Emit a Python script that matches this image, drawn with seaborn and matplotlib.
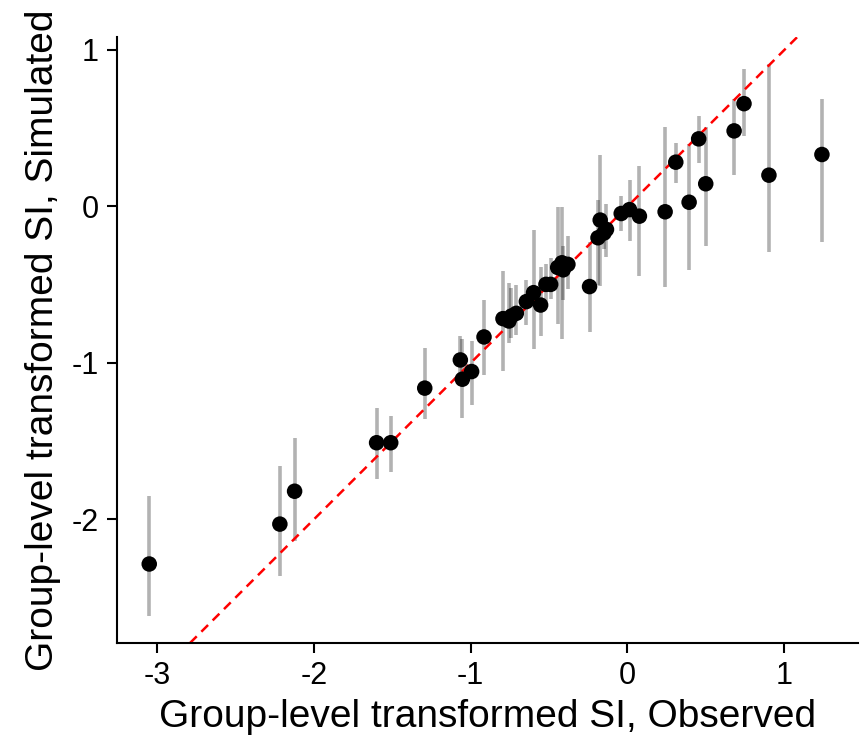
import matplotlib
matplotlib.use("Agg")
import matplotlib.pyplot as plt
import seaborn as sns
import pandas as pd

# Observed vs simulated group-level transformed SI
observed = [-3.05, -2.217, -2.123, -1.60, -1.51, -1.293, -1.066, -1.053, -0.994, -0.915,
            -0.794, -0.756, -0.74, -0.709, -0.645, -0.599, -0.554, -0.52, -0.49, -0.445,
            -0.418, -0.41, -0.38, -0.242, -0.188, -0.174, -0.134, -0.15, -0.04, 0.013,
            0.076, 0.24, 0.308, 0.393, 0.454, 0.499, 0.68, 0.743, 0.902, 1.24]
simulated = [-2.285, -2.03, -1.82, -1.51, -1.51, -1.161, -0.981, -1.104, -1.055, -0.834,
             -0.717, -0.732, -0.70, -0.683, -0.608, -0.551, -0.63, -0.498, -0.498, -0.39,
             -0.36, -0.405, -0.37, -0.512, -0.20, -0.087, -0.147, -0.17, -0.045, -0.02,
             -0.062, -0.034, 0.283, 0.027, 0.432, 0.145, 0.483, 0.657, 0.20, 0.332]
sim_low = [-2.62, -2.36, -2.14, -1.74, -1.70, -1.36, -1.14, -1.355, -1.27, -1.078,
           -1.05, -0.87, -0.84, -0.82, -0.76, -0.91, -0.83, -0.645, -0.59, -0.75,
           -0.85, -0.60, -0.53, -0.80, -0.50, -0.51, -0.325, -0.27, -0.157, -0.22,
           -0.445, -0.515, 0.151, -0.408, 0.279, -0.253, 0.198, 0.449, -0.29, -0.225]
sim_high = [-1.85, -1.66, -1.48, -1.29, -1.34, -0.906, -0.83, -0.85, -0.86, -0.598,
            -0.41, -0.49, -0.52, -0.50, -0.47, -0.15, -0.39, -0.37, -0.33, -0.006,
            -0.006, -0.25, -0.19, -0.23, 0.04, 0.33, 0.013, -0.05, 0.066, 0.166,
            0.257, 0.506, 0.406, 0.40, 0.58, 0.506, 0.687, 0.88, 0.91, 0.687]

xticks = [-3, -2, -1, 0, 1]
yticks = [-2, -1, 0, 1]
xlabel = "Group-level transformed SI, Observed"
ylabel = "Group-level transformed SI, Simulated"

df = pd.DataFrame({"obs": observed, "sim": simulated, "lo": sim_low, "hi": sim_high})

sns.set_theme(style="ticks")
plt.rcParams["font.family"] = ["Liberation Sans", "DejaVu Sans"]

fig = plt.figure(figsize=(8.61, 7.49), dpi=100)
ax = fig.add_axes([0.136, 0.1415, 0.8605, 0.8091])

ax.vlines(df["obs"], df["lo"], df["hi"], colors="black", alpha=0.3, linewidth=2.6, zorder=1)
ax.axline((0, 0), slope=1, color="red", linewidth=1.8, linestyle=(0, (3.8, 2.6)), zorder=2)
sns.scatterplot(data=df, x="obs", y="sim", ax=ax, color="black", s=125,
                edgecolor="none", zorder=3, legend=False)

ax.set_xlim(-3.255, 1.47)
ax.set_ylim(-2.79, 1.083)
ax.set_xticks(xticks)
ax.set_yticks(yticks)
ax.set_xticklabels([str(t) for t in xticks])
ax.set_yticklabels([str(t) for t in yticks])
ax.tick_params(axis="both", labelsize=22, length=7, width=1.5, color="black",
               labelcolor="black", pad=6)
for side in ["top", "right"]:
    ax.spines[side].set_visible(False)
for side in ["left", "bottom"]:
    ax.spines[side].set_color("black")
    ax.spines[side].set_linewidth(1.5)

ax.set_xlabel(xlabel, fontsize=28, color="black", labelpad=6)
ax.set_ylabel(ylabel, fontsize=28, color="black", labelpad=8)

fig.savefig("out.png", dpi=100)
